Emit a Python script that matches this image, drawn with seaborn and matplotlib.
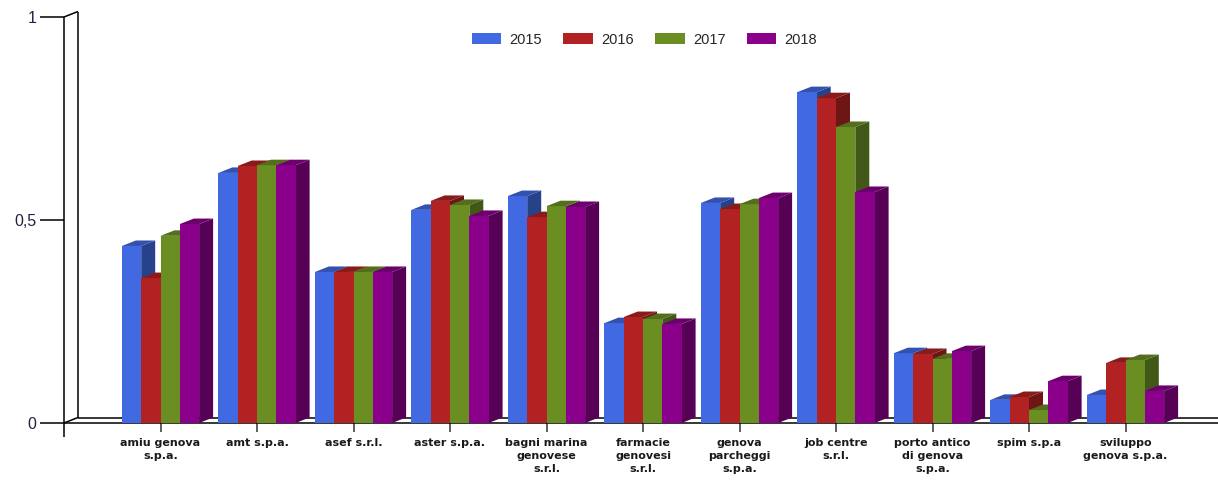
import numpy as np
import pandas as pd
import matplotlib
matplotlib.use("Agg")
import matplotlib.pyplot as plt
import matplotlib.colors as mcolors
from matplotlib.patches import Polygon
import seaborn as sns

# ---------------- data ----------------
companies = ["amiu genova s.p.a.", "amt s.p.a.", "asef s.r.l.", "aster s.p.a.",
             "bagni marina genovese s.r.l.", "farmacie genovesi s.r.l.",
             "genova parcheggi s.p.a.", "job centre s.r.l.",
             "porto antico di genova s.p.a.", "spim s.p.a", "sviluppo genova s.p.a."]
tick_labels = ["amiu genova\ns.p.a.", "amt s.p.a.", "asef s.r.l.", "aster s.p.a.",
               "bagni marina\ngenovese\ns.r.l.", "farmacie\ngenovesi\ns.r.l.",
               "genova\nparcheggi\ns.p.a.", "job centre\ns.r.l.",
               "porto antico\ndi genova\ns.p.a.", "spim s.p.a", "sviluppo\ngenova s.p.a."]
years = ["2015", "2016", "2017", "2018"]
v2015 = [0.436, 0.616, 0.372, 0.525, 0.559, 0.246, 0.542, 0.815, 0.172, 0.057, 0.069]
v2016 = [0.357, 0.633, 0.372, 0.547, 0.507, 0.261, 0.527, 0.800, 0.170, 0.064, 0.148]
v2017 = [0.461, 0.635, 0.372, 0.537, 0.534, 0.256, 0.539, 0.729, 0.158, 0.032, 0.155]
v2018 = [0.490, 0.635, 0.372, 0.510, 0.532, 0.244, 0.554, 0.569, 0.177, 0.103, 0.079]
yticks = [0, 0.5, 1]
ytick_labels = ["0", "0,5", "1"]
colors = ["#4169E1", "#B22222", "#6B8E23", "#8B008B"]

series = [v2015, v2016, v2017, v2018]
df = pd.DataFrame({
    "company": np.tile(companies, len(years)),
    "year": np.repeat(years, len(companies)),
    "value": np.concatenate(series),
})

sns.set_style("white")
plt.rcParams["font.family"] = ["Liberation Sans", "DejaVu Sans"]

W, H = 1218, 480
fig = plt.figure(figsize=(W / 100, H / 100), dpi=100)
ax_left_px, ax_bottom_px, ax_top_px = 64, 423, 17
ax = fig.add_axes([ax_left_px / W, 1 - ax_bottom_px / H, 1 - ax_left_px / W,
                   (ax_bottom_px - ax_top_px) / H])

sns.barplot(data=df, x="company", y="value", hue="year", palette=colors,
            saturation=1, width=0.8, linewidth=0, edgecolor="none", ax=ax)

px_per_unit = 96.5
xmin = -1.0
xmax = xmin + (W - ax_left_px) / px_per_unit
ax.set_xlim(xmin, xmax)
ax.set_ylim(0, 1)

# 3D depth offsets (data units)
DX = 14 / px_per_unit
DY = 5.5 / (ax_bottom_px - ax_top_px)


def shade(c, f):
    r, g, b = mcolors.to_rgb(c)
    return (r * f, g * f, b * f)


for k, cont in enumerate(ax.containers):
    c = colors[k]
    top_c = shade(c, 0.78)
    side_c = shade(c, 0.62)
    for p in cont.patches:
        x0, w, h = p.get_x(), p.get_width(), p.get_height()
        p.set_zorder(11 + 3 * k)
        ax.add_patch(Polygon([(x0, h), (x0 + w, h), (x0 + w + DX, h + DY), (x0 + DX, h + DY)],
                             closed=True, fc=top_c, lw=0, zorder=12 + 3 * k))
        ax.add_patch(Polygon([(x0 + w, 0), (x0 + w + DX, DY), (x0 + w + DX, h + DY), (x0 + w, h)],
                             closed=True, fc=side_c, lw=0, zorder=10 + 3 * k))

# frame: floor and back wall
for s in ax.spines.values():
    s.set_visible(False)
lk = dict(color="black", lw=1.1, clip_on=False, zorder=5, solid_capstyle="butt")
ax.plot([xmin, xmax], [0, 0], **lk)
ax.plot([xmin + DX, xmax], [DY, DY], **lk)
ax.plot([xmin, xmin + DX], [0, DY], **lk)
ax.plot([xmin + DX, xmin + DX], [DY, 1 + DY], **lk)
ax.plot([xmin, xmin + DX], [1, 1 + DY], **lk)
ax.plot([xmin, xmin], [-14 / 406, 1], **lk)

ax.set_yticks(yticks)
ax.set_yticklabels(ytick_labels, fontsize=11.5, color="#222244")
ax.set_xticks(range(len(companies)))
ax.set_xticklabels(tick_labels, fontsize=8, fontweight="bold", color="#1a1a1a",
                   family=["DejaVu Sans"], linespacing=1.4)
ax.tick_params(axis="y", which="both", left=True, length=17, width=1.1, color="black",
               pad=3, direction="out")
ax.tick_params(axis="x", which="both", bottom=True, length=6.5, width=1.1, color="#333333",
               pad=4, direction="out")
ax.set_xlabel("")
ax.set_ylabel("")

handles, lbls = ax.get_legend_handles_labels()
ax.legend(handles, lbls, ncol=4, loc="center", bbox_to_anchor=(0.529, 0.917),
          bbox_transform=fig.transFigure, frameon=False, fontsize=10.5,
          handlelength=2.05, handleheight=0.75, handletextpad=0.55, columnspacing=1.45)

fig.savefig("out.png", dpi=100)
